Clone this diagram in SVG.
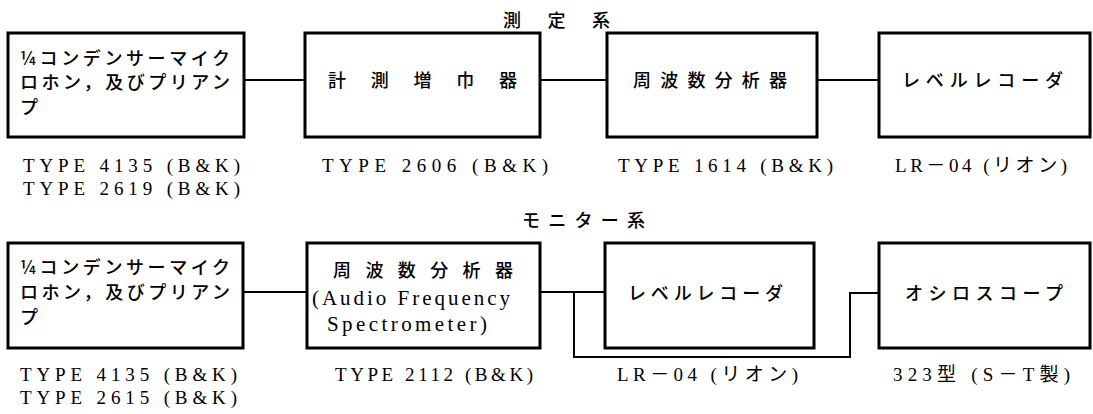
<svg xmlns="http://www.w3.org/2000/svg" width="1093" height="414" viewBox="0 0 1093 414">
<style>
.box{fill:none;stroke:#000;stroke-width:3}
.conn{fill:none;stroke:#000;stroke-width:2}
.jp{font-family:"Noto Sans CJK JP","Noto Sans",sans-serif;font-size:18px;font-weight:500;fill:#000}
.lat{font-family:"Liberation Serif","Noto Sans CJK JP",serif;font-size:21px;fill:#000}
.lbl{font-family:"Liberation Serif","Noto Sans CJK JP",serif;font-size:19px;fill:#000}
.ttl{font-family:"Noto Sans CJK JP",sans-serif;font-size:18px;font-weight:500;fill:#000}
</style>
<rect width="1093" height="414" fill="#fff"/>
<text class="ttl" x="503" y="27" textLength="107" lengthAdjust="spacing">測定系</text>
<text class="ttl" x="522" y="227" textLength="123" lengthAdjust="spacing">モニター系</text>

<g id="connectors">
<line class="conn" x1="244" y1="80" x2="305" y2="80"/>
<line class="conn" x1="540" y1="80" x2="607" y2="80"/>
<line class="conn" x1="817" y1="80" x2="879" y2="80"/>
<line class="conn" x1="243" y1="292" x2="307" y2="292"/>
<line class="conn" x1="540" y1="292" x2="605" y2="292"/>
<polyline class="conn" points="574,292 574,357 850,357 850,293 879,293"/>
</g>

<g id="m1">
<rect class="box" x="8" y="33" width="236" height="104"/>
<text class="jp" x="20" y="65" textLength="210" lengthAdjust="spacing">¼コンデンサーマイク</text>
<text class="jp" x="20" y="89" textLength="210" lengthAdjust="spacing">ロホン，及びプリアン</text>
<text class="jp" x="20" y="114">プ</text>
<text class="lbl" x="23" y="172" textLength="217" lengthAdjust="spacing">TYPE 4135 (B&amp;K)</text>
<text class="lbl" x="23" y="195" textLength="217" lengthAdjust="spacing">TYPE 2619 (B&amp;K)</text>
</g>
<g id="m2">
<rect class="box" x="305" y="33" width="235" height="104"/>
<text class="jp" x="328" y="87" textLength="189" lengthAdjust="spacing">計測増巾器</text>
<text class="lbl" x="322" y="172" textLength="226" lengthAdjust="spacing">TYPE 2606 (B&amp;K)</text>
</g>
<g id="m3">
<rect class="box" x="607" y="33" width="210" height="104"/>
<text class="jp" x="633" y="87" textLength="154" lengthAdjust="spacing">周波数分析器</text>
<text class="lbl" x="618" y="172" textLength="215" lengthAdjust="spacing">TYPE 1614 (B&amp;K)</text>
</g>
<g id="m4">
<rect class="box" x="879" y="33" width="211" height="104"/>
<text class="jp" x="902" y="87" textLength="161" lengthAdjust="spacing">レベルレコーダ</text>
<text class="lbl" x="895" y="172" textLength="172" lengthAdjust="spacing">LR－04 (リオン)</text>
</g>

<g id="n1">
<rect class="box" x="8" y="243" width="235" height="105"/>
<text class="jp" x="20" y="274" textLength="210" lengthAdjust="spacing">¼コンデンサーマイク</text>
<text class="jp" x="20" y="299" textLength="210" lengthAdjust="spacing">ロホン，及びプリアン</text>
<text class="jp" x="20" y="324">プ</text>
<text class="lbl" x="20" y="381" textLength="217" lengthAdjust="spacing">TYPE 4135 (B&amp;K)</text>
<text class="lbl" x="20" y="404" textLength="217" lengthAdjust="spacing">TYPE 2615 (B&amp;K)</text>
</g>
<g id="n2">
<rect class="box" x="307" y="243" width="233" height="105"/>
<text class="jp" x="333" y="277" textLength="180" lengthAdjust="spacing">周波数分析器</text>
<text class="lat" x="312" y="305" textLength="198" lengthAdjust="spacing">(Audio Frequency</text>
<text class="lat" x="327" y="331" textLength="160" lengthAdjust="spacing">Spectrometer)</text>
<text class="lbl" x="335" y="381" textLength="198" lengthAdjust="spacing">TYPE 2112 (B&amp;K)</text>
</g>
<g id="n3">
<rect class="box" x="605" y="243" width="209" height="105"/>
<text class="jp" x="628" y="300" textLength="155" lengthAdjust="spacing">レベルレコーダ</text>
<text class="lbl" x="617" y="381" textLength="181" lengthAdjust="spacing">LR－04 (リオン)</text>
</g>
<g id="n4">
<rect class="box" x="879" y="243" width="211" height="105"/>
<text class="jp" x="905" y="300" textLength="158" lengthAdjust="spacing">オシロスコープ</text>
<text class="lbl" x="893" y="381" textLength="177" lengthAdjust="spacing">323型 (S－T製)</text>
</g>
</svg>
